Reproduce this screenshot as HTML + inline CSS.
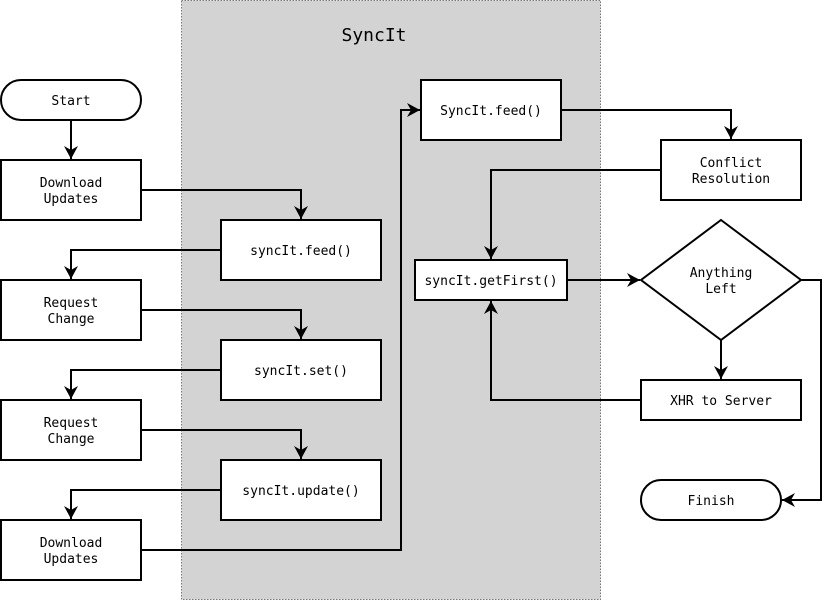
<!DOCTYPE html>
<html><head><meta charset="utf-8"><style>
html,body{margin:0;padding:0;background:#fff;}
svg text{font-family:"DejaVu Sans Mono","Liberation Mono",monospace;font-size:13px;fill:#000;}
</style></head><body>
<svg width="822" height="601" viewBox="0 0 822 601" xmlns="http://www.w3.org/2000/svg">
<defs>
<marker id="a" markerUnits="userSpaceOnUse" markerWidth="16" markerHeight="16" refX="13" refY="8" orient="auto" overflow="visible">
<path d="M0,1 L13,8 L0,15 L4,8 Z" fill="#000" stroke="none"/>
</marker>
</defs>
<rect x="181.5" y="0.5" width="419" height="599" fill="#d3d3d3" stroke="#777" stroke-dasharray="1.5,1.5"/>
<text x="374" y="41" text-anchor="middle" style="font-size:18px">SyncIt</text>
<g fill="none" stroke="#000" stroke-width="2" marker-end="url(#a)">
<path d="M71,120 V159"/>
<path d="M141,190 H301 V219"/>
<path d="M221,250 H71 V279"/>
<path d="M141,310 H301 V339"/>
<path d="M221,370 H71 V399"/>
<path d="M141,430 H301 V459"/>
<path d="M221,490 H71 V519"/>
<path d="M141,550 H401 V110 H420"/>
<path d="M561,110 H731 V139"/>
<path d="M661,170 H491 V259"/>
<path d="M567,280 H640"/>
<path d="M721,340 V379"/>
<path d="M641,400 H491 V301"/>
<path d="M801,280 H821 V500 H782"/>
</g>
<g fill="#fff" stroke="#000" stroke-width="2">
<rect x="1" y="80" width="140" height="40" rx="20"/>
<rect x="1" y="160" width="140" height="60"/>
<rect x="221" y="220" width="160" height="60"/>
<rect x="1" y="280" width="140" height="60"/>
<rect x="221" y="340" width="160" height="60"/>
<rect x="1" y="400" width="140" height="60"/>
<rect x="221" y="460" width="160" height="60"/>
<rect x="1" y="520" width="140" height="60"/>
<rect x="421" y="80" width="140" height="60"/>
<rect x="661" y="140" width="140" height="60"/>
<rect x="415" y="260" width="152" height="40"/>
<path d="M721,220 L801,280 L721,340 L641,280 Z"/>
<rect x="641" y="380" width="160" height="40"/>
<rect x="641" y="480" width="140" height="40" rx="20"/>
</g>
<g text-anchor="middle">
<text x="71" y="105">Start</text>
<text x="71" y="187">Download</text><text x="71" y="203">Updates</text>
<text x="301" y="255">syncIt.feed()</text>
<text x="71" y="307">Request</text><text x="71" y="323">Change</text>
<text x="301" y="375">syncIt.set()</text>
<text x="71" y="427">Request</text><text x="71" y="443">Change</text>
<text x="301" y="495">syncIt.update()</text>
<text x="71" y="547">Download</text><text x="71" y="563">Updates</text>
<text x="491" y="115">SyncIt.feed()</text>
<text x="731" y="167">Conflict</text><text x="731" y="183">Resolution</text>
<text x="491" y="285">syncIt.getFirst()</text>
<text x="721" y="277">Anything</text><text x="721" y="293">Left</text>
<text x="721" y="405">XHR to Server</text>
<text x="711" y="505">Finish</text>
</g>
</svg>
</body></html>
